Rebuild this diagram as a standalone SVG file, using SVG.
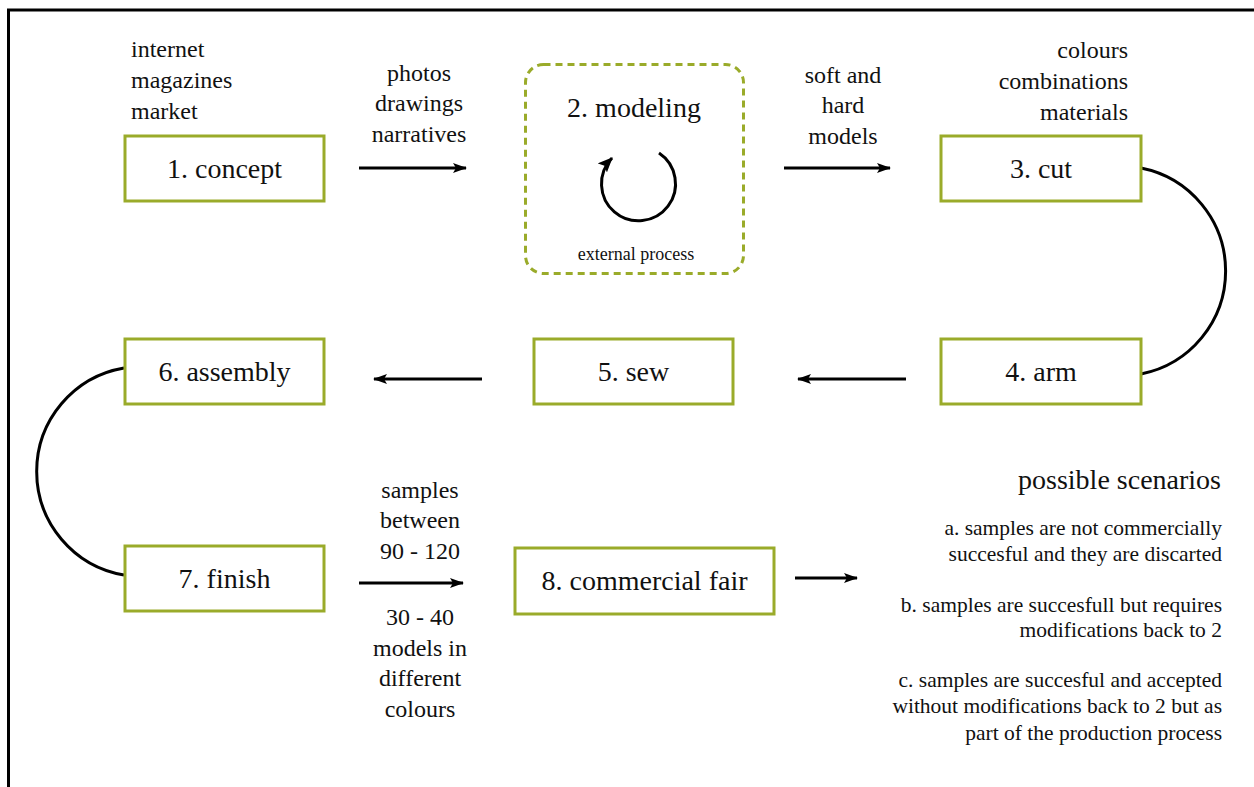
<svg xmlns="http://www.w3.org/2000/svg" width="1254" height="787" viewBox="0 0 1254 787" font-family="Liberation Serif, Times New Roman, DejaVu Serif, serif">
<style>
text{fill:#111}
.box{fill:#fff;stroke:#9aab2a;stroke-width:3}
.lbl{font-size:28px;text-anchor:middle}
.note{font-size:24px}
.mid{text-anchor:middle}
.end{text-anchor:end}
.sc{font-size:21.5px;text-anchor:end}
.con{fill:none;stroke:#000;stroke-width:3}
</style>
<defs>
<marker id="ah" viewBox="0 0 14 10" refX="13" refY="5" markerWidth="14" markerHeight="10" markerUnits="userSpaceOnUse" orient="auto">
<path d="M0,0 L14,5 L0,10 L3,5 Z" fill="#000"/>
</marker>
<marker id="ah2" viewBox="0 0 14 12" refX="13" refY="6" markerWidth="15" markerHeight="13" markerUnits="userSpaceOnUse" orient="auto">
<path d="M0,0 L14,6 L0,12 L3,6 Z" fill="#000"/>
</marker>
</defs>
<rect width="1254" height="787" fill="#fff"/>
<path d="M8.5,787 V10 H1254" fill="none" stroke="#000" stroke-width="3"/>

<g id="connectors">
<line class="con" x1="359" y1="168" x2="466" y2="168" marker-end="url(#ah)"/>
<line class="con" x1="784" y1="168" x2="890" y2="168" marker-end="url(#ah)"/>
<line class="con" x1="906" y1="379" x2="798" y2="379" marker-end="url(#ah)"/>
<line class="con" x1="482" y1="379" x2="374" y2="379" marker-end="url(#ah)"/>
<line class="con" x1="359" y1="583" x2="463" y2="583" marker-end="url(#ah)"/>
<line class="con" x1="795" y1="578" x2="857" y2="578" marker-end="url(#ah)"/>
<path class="con" d="M1141,168 A105,105 0 0 1 1141,374"/>
<path class="con" d="M124,368 A105,105 0 0 0 124,575"/>
</g>

<g id="note-concept">
<text class="note" x="131" y="57">internet</text>
<text class="note" x="131" y="88">magazines</text>
<text class="note" x="131" y="119">market</text>
</g>
<g id="label-photos">
<text class="note mid" x="419" y="81">photos</text>
<text class="note mid" x="419" y="111">drawings</text>
<text class="note mid" x="419" y="142">narratives</text>
</g>
<g id="label-models">
<text class="note mid" x="843" y="83">soft and</text>
<text class="note mid" x="843" y="113">hard</text>
<text class="note mid" x="843" y="144">models</text>
</g>
<g id="note-cut">
<text class="note end" x="1128" y="58">colours</text>
<text class="note end" x="1128" y="89">combinations</text>
<text class="note end" x="1128" y="120">materials</text>
</g>

<g id="n1"><rect class="box" x="125" y="136" width="199" height="65"/><text class="lbl" x="224.5" y="178">1. concept</text></g>
<g id="n2">
<rect x="525.5" y="64.5" width="218" height="209" rx="18" fill="#fff" stroke="#9aab2a" stroke-width="3" stroke-dasharray="7,5"/>
<text class="lbl" x="634" y="117">2. modeling</text>
<path d="M659,153 A37,37 0 1 1 612,158" fill="none" stroke="#000" stroke-width="3" marker-end="url(#ah2)"/>
<text class="mid" x="636" y="260" font-size="18">external process</text>
</g>
<g id="n3"><rect class="box" x="941" y="136" width="200" height="65"/><text class="lbl" x="1041" y="178">3. cut</text></g>
<g id="n4"><rect class="box" x="941" y="339" width="200" height="65"/><text class="lbl" x="1041" y="381">4. arm</text></g>
<g id="n5"><rect class="box" x="534" y="339" width="199" height="65"/><text class="lbl" x="633.5" y="381">5. sew</text></g>
<g id="n6"><rect class="box" x="125" y="339" width="199" height="65"/><text class="lbl" x="224.5" y="381">6. assembly</text></g>
<g id="n7"><rect class="box" x="125" y="546" width="199" height="65"/><text class="lbl" x="224.5" y="588">7. finish</text></g>
<g id="n8"><rect class="box" x="515" y="548" width="259" height="66"/><text class="lbl" x="644.5" y="590">8. commercial fair</text></g>

<g id="label-samples">
<text class="note mid" x="420" y="498">samples</text>
<text class="note mid" x="420" y="528">between</text>
<text class="note mid" x="420" y="559">90 - 120</text>
<text class="note mid" x="420" y="625">30 - 40</text>
<text class="note mid" x="420" y="656">models in</text>
<text class="note mid" x="420" y="686">different</text>
<text class="note mid" x="420" y="717">colours</text>
</g>

<g id="scenarios">
<text class="end" x="1221" y="489" font-size="28">possible scenarios</text>
<text class="sc" x="1222" y="535">a. samples are not commercially</text>
<text class="sc" x="1222" y="561">succesful and they are discarted</text>
<text class="sc" x="1222" y="612">b. samples are succesfull but requires</text>
<text class="sc" x="1222" y="637">modifications back to 2</text>
<text class="sc" x="1222" y="687">c. samples are succesful and accepted</text>
<text class="sc" x="1222" y="713">without modifications back to 2 but as</text>
<text class="sc" x="1222" y="740">part of the production process</text>
</g>
</svg>
